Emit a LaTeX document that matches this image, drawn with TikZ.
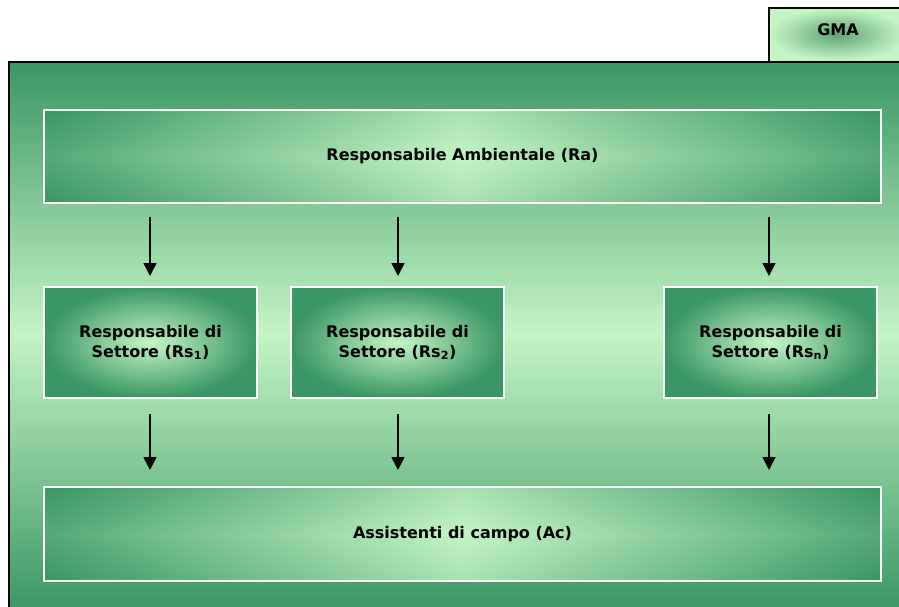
\documentclass[tikz,border=0pt]{standalone}
\usepackage{fontspec}
\setmainfont{DejaVu Sans}
\usetikzlibrary{arrows.meta}
\definecolor{dk}{RGB}{58,150,100}
\definecolor{lt}{RGB}{196,245,196}
\definecolor{md}{RGB}{95,165,115}
\tikzset{
  lbl/.style={font=\bfseries\fontsize{16}{20}\selectfont, text=black, align=center},
  bar/.style={draw=white, line width=1.6pt, left color=dk, right color=dk, middle color=lt},
  sbox/.style={draw=white, line width=1.6pt, inner color=lt, outer color=dk},
  arr/.style={-{Triangle[length=13pt,width=13pt]}, line width=1.5pt, black},
}
\begin{document}
\begin{tikzpicture}[x=1pt,y=-1pt]
\useasboundingbox (0,0) rectangle (899,606);
\clip (0,0) rectangle (899,606);
% GMA tab
\shade[inner color=md, outer color=lt] (769,8) rectangle (905,61);
\draw[line width=1.4pt] (769,61) -- (769,8) -- (905,8);
\node[lbl] (gma) at (838,30) {GMA};
% outer frame
\shade[top color=dk, bottom color=lt] (9,62) rectangle (905,334);
\shade[top color=lt, bottom color=dk] (9,333) rectangle (905,612);
\draw[line width=1.6pt] (9,612) -- (9,62) -- (905,62);
% top bar
\shade[bar] (44,110) rectangle (881,203);
\shade[top color=dk, bottom color=dk, middle color=lt, opacity=0.2] (44,110) rectangle (881,203);
\draw[white, line width=1.6pt] (44,110) rectangle (881,203);
\node[lbl] (ra) at (462.5,156.5) {Responsabile Ambientale (Ra)};
% sector boxes
\shade[sbox] (44,287) rectangle (257,398);
\draw[white, line width=1.6pt] (44,287) rectangle (257,398);
\node[lbl] (rs1) at (150.5,342.5) {Responsabile di\\Settore (Rs\textsubscript{1})};
\shade[sbox] (291,287) rectangle (504,398);
\draw[white, line width=1.6pt] (291,287) rectangle (504,398);
\node[lbl] (rs2) at (397.5,342.5) {Responsabile di\\Settore (Rs\textsubscript{2})};
\shade[sbox] (664,287) rectangle (877,398);
\draw[white, line width=1.6pt] (664,287) rectangle (877,398);
\node[lbl] (rsn) at (770.5,342.5) {Responsabile di\\Settore (Rs\textsubscript{n})};
% bottom bar
\shade[bar] (44,487) rectangle (881,581);
\shade[top color=dk, bottom color=dk, middle color=lt, opacity=0.2] (44,487) rectangle (881,581);
\draw[white, line width=1.6pt] (44,487) rectangle (881,581);
\node[lbl] (ac) at (462.5,534) {Assistenti di campo (Ac)};
% arrow anchors
\coordinate (a1s) at (150,217); \coordinate (a1e) at (150,276);
\coordinate (a2s) at (398,217); \coordinate (a2e) at (398,276);
\coordinate (a3s) at (769,217); \coordinate (a3e) at (769,276);
\coordinate (b1s) at (150,414); \coordinate (b1e) at (150,470);
\coordinate (b2s) at (398,414); \coordinate (b2e) at (398,470);
\coordinate (b3s) at (769,414); \coordinate (b3e) at (769,470);
\draw[arr] (a1s) -- (a1e);
\draw[arr] (a2s) -- (a2e);
\draw[arr] (a3s) -- (a3e);
\draw[arr] (b1s) -- (b1e);
\draw[arr] (b2s) -- (b2e);
\draw[arr] (b3s) -- (b3e);
\end{tikzpicture}
\end{document}
